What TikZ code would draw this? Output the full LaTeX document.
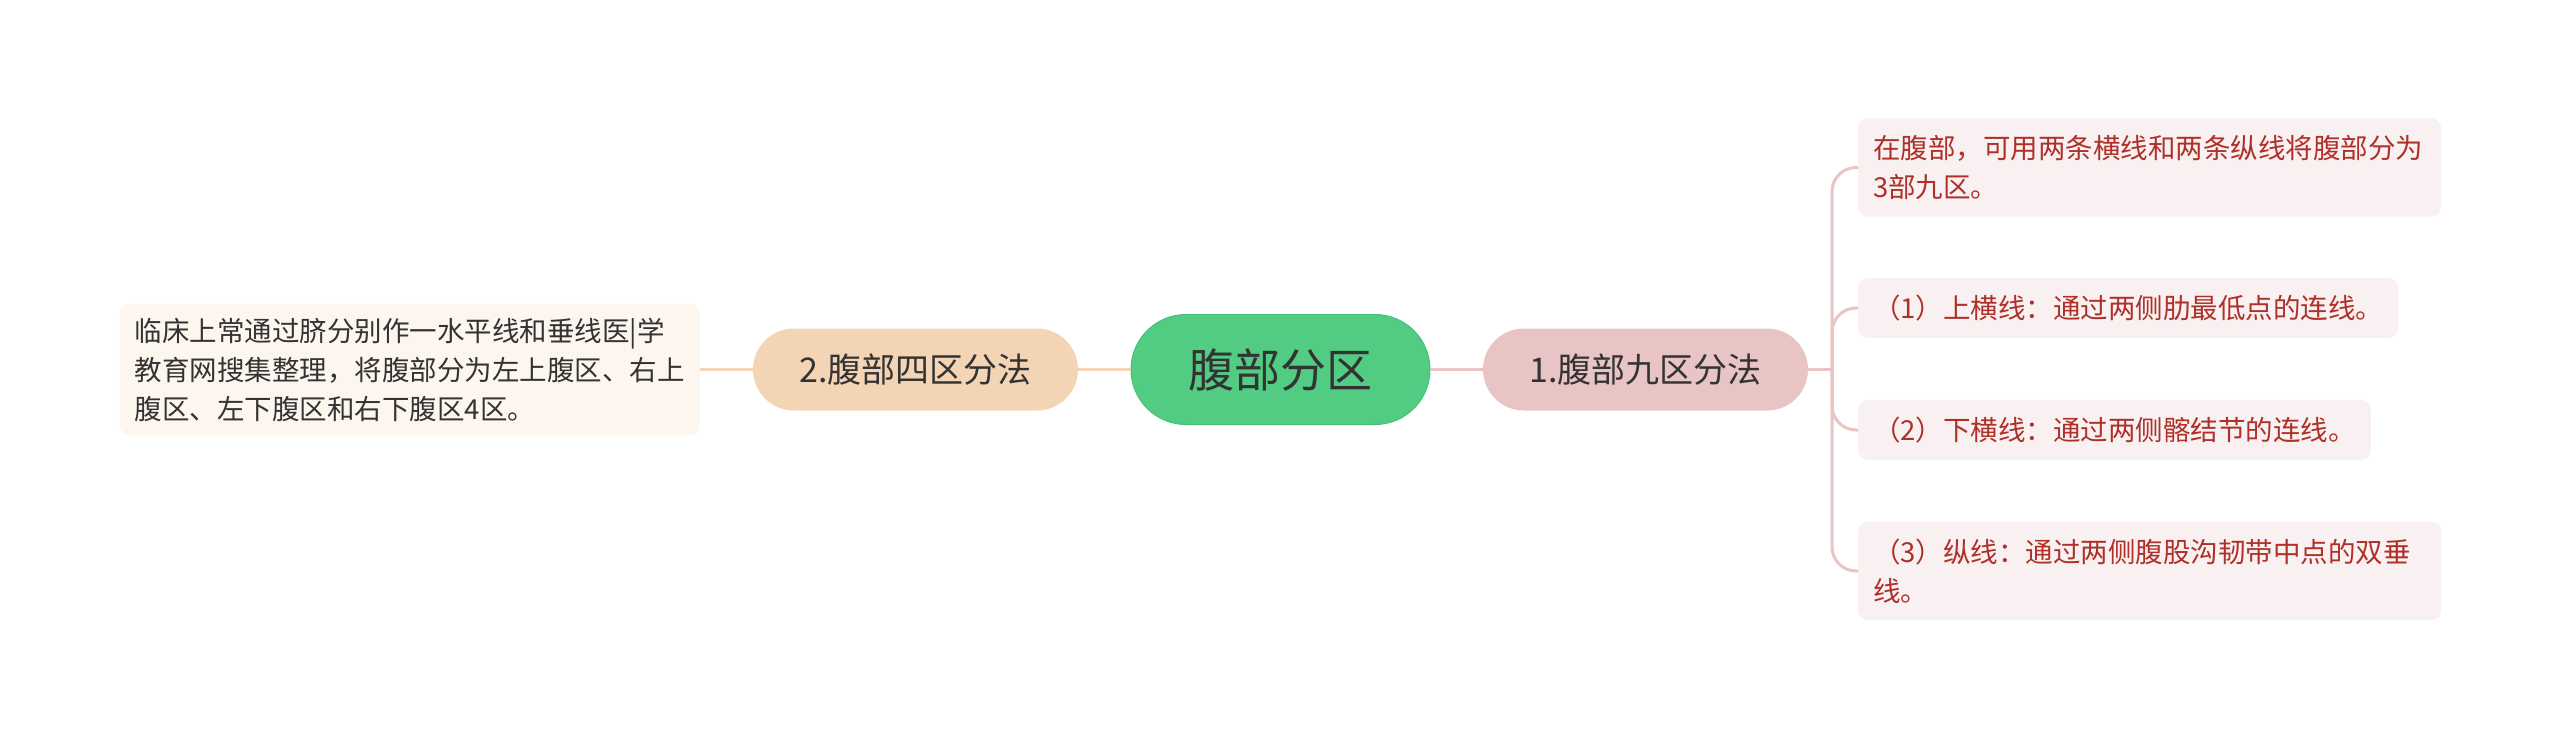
\documentclass[tikz,border=0pt]{standalone}
\usepackage{fontspec}
\setmainfont{Noto Sans CJK SC}

\definecolor{rootgreen}{HTML}{52CC83}
\definecolor{rootedge}{HTML}{47BF77}
\definecolor{ninefill}{HTML}{E8C4C4}
\definecolor{fourfill}{HTML}{F3D5B5}
\definecolor{nineleaf}{HTML}{F9F1F1}
\definecolor{fourleaf}{HTML}{FDF6EE}
\definecolor{ninetext}{HTML}{AE3029}
\definecolor{textgray}{HTML}{333333}

\begin{document}
\begin{tikzpicture}[x=1pt, y=-1pt,
    every node/.style={align=left, text=textgray},
    root/.style={fill=rootgreen, draw=rootedge, line width=1pt, rounded corners=55pt, minimum width=299pt, minimum height=110pt, align=center, font=\fontsize{46}{52}\selectfont},
    branch/.style={rounded corners=41pt, minimum width=325pt, minimum height=82pt, align=center, font=\fontsize{34}{40}\selectfont},
    leaf/.style={rounded corners=10pt, inner xsep=15pt, inner ysep=17pt, font=\fontsize{27.5}{39}\selectfont},
    link/.style={line width=3pt}]
        \useasboundingbox (0,0) rectangle (2560,740);
        \fill[white] (0,0) rectangle (2560,740);

        \node[root] (root) at (1280.5,369.5) {腹部分区};
        \node[branch, fill=ninefill] (nine) at (1645.5,369.5) {1.腹部九区分法};
        \node[branch, fill=fourfill] (four) at (915.5,369.5) {2.腹部四区分法};

        \node[leaf, fill=fourleaf, anchor=east, inner ysep=14pt] (four_desc) at (700,369.5) {临床上常通过脐分别作一水平线和垂线医|学\\教育网搜集整理，将腹部分为左上腹区、右上\\腹区、左下腹区和右下腹区4区。};

        \node[leaf, fill=nineleaf, text=ninetext, anchor=west, text width=553pt] (nine_a) at (1858,167.5) {在腹部，可用两条横线和两条纵线将腹部分为\\3部九区。};
        \node[leaf, fill=nineleaf, text=ninetext, anchor=west] (nine_b) at (1858,308) {（1）上横线：通过两侧肋最低点的连线。};
        \node[leaf, fill=nineleaf, text=ninetext, anchor=west] (nine_c) at (1858,430) {（2）下横线：通过两侧髂结节的连线。};
        \node[leaf, fill=nineleaf, text=ninetext, anchor=west, text width=553pt] (nine_d) at (1858,571) {（3）纵线：通过两侧腹股沟韧带中点的双垂\\线。};

        \coordinate (hub) at (1832,369.5);

        \draw[link, ninefill] (root.east) -- (nine.west);
        \draw[link, ninefill] (nine.east) -- (hub);
        \foreach \leaf in {nine_a, nine_b, nine_c, nine_d}
            \draw[link, ninefill, rounded corners=24pt] (hub) |- (\leaf.west);
        \draw[link, fourfill] (root.west) -- (four.east);
        \draw[link, fourfill] (four.west) -- (four_desc.east);
    \end{tikzpicture}
\end{document}
